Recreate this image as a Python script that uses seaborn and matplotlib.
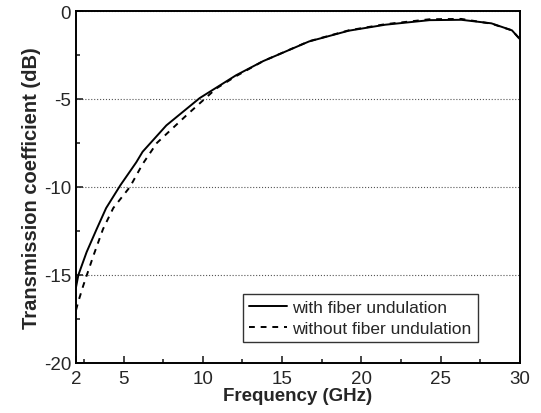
#!/usr/bin/env python3
"""
Transmission coefficient vs frequency, with and without fiber undulation.
"""

import pandas as pd
import matplotlib.pyplot as plt
import seaborn as sns
from matplotlib.ticker import MultipleLocator

# Curve
freq_with = [2.0, 2.15, 2.67, 3.3, 3.9, 4.8, 5.8, 6.2, 7.7, 9.8, 12.1, 13.8,
             16.7, 19.2, 21.5, 24.3, 26.3, 28.2, 29.5, 29.8, 30.0]
s21_with = [-15.7, -15.0, -13.7, -12.4, -11.2, -9.9, -8.6, -8.0, -6.5, -4.95,
            -3.65, -2.85, -1.73, -1.12, -0.78, -0.52, -0.50, -0.70, -1.10,
            -1.40, -1.60]

freq_without = [2.0, 2.15, 2.46, 3.1, 3.7, 4.35, 5.4, 6.2, 7.1, 9.0, 10.85,
                12.1, 13.8, 16.7, 19.2, 21.5, 24.3, 26.3, 28.2, 29.5, 29.8, 30.0]
s21_without = [-17.0, -16.5, -15.6, -13.9, -12.4, -11.2, -10.0, -8.7, -7.5,
               -5.9, -4.4, -3.7, -2.85, -1.72, -1.10, -0.75, -0.47, -0.45,
               -0.72, -1.10, -1.40, -1.60]

label_with = 'with fiber undulation'
label_without = 'without fiber undulation'

x_ticks = [2, 5, 10, 15, 20, 25, 30]
y_ticks = [0, -5, -10, -15, -20]


def build_frame():
    a = pd.DataFrame({'Frequency': freq_with, 'S21': s21_with, 'case': label_with})
    b = pd.DataFrame({'Frequency': freq_without, 'S21': s21_without, 'case': label_without})
    return pd.concat([a, b], ignore_index=True)


def main():
    sns.set_style('ticks')
    plt.rcParams['font.family'] = ['Liberation Sans', 'DejaVu Sans']
    plt.rcParams['axes.unicode_minus'] = False

    df = build_frame()

    fig = plt.figure(figsize=(5.41, 4.14), dpi=100)
    ax = fig.add_axes([0.1405, 0.121, 0.8205, 0.850])

    sns.lineplot(
        data=df, x='Frequency', y='S21', hue='case', style='case',
        palette={label_with: 'black', label_without: 'black'},
        dashes={label_with: '', label_without: (3, 3)},
        sort=False, estimator=None, linewidth=1.4, ax=ax,
    )

    ax.set_xlim(2, 30)
    ax.set_ylim(-20, 0)
    ax.set_xticks(x_ticks)
    ax.set_yticks(y_ticks)
    ax.xaxis.set_minor_locator(MultipleLocator(2.5))
    ax.yaxis.set_minor_locator(MultipleLocator(2.5))
    ax.tick_params(which='both', direction='in', labelsize=13.5, width=1.2)
    ax.tick_params(which='major', length=5)
    ax.tick_params(which='minor', length=3)
    ax.tick_params(axis='x', pad=5)

    for side in ['top', 'right']:
        ax.spines[side].set_visible(True)
    for sp in ax.spines.values():
        sp.set_linewidth(1.4)
        sp.set_color('black')

    ax.yaxis.grid(True, linestyle=':', color='#555555', linewidth=0.8)
    ax.xaxis.grid(False)

    ax.set_xlabel('Frequency (GHz)', fontsize=13.5, fontweight='bold', labelpad=0)
    ax.set_ylabel('Transmission coefficient (dB)', fontsize=14.5, fontweight='bold', labelpad=2)

    leg = ax.legend(loc='lower right', bbox_to_anchor=(0.905, 0.06),
                    fontsize=12.5, frameon=True, fancybox=False, edgecolor='black',
                    handlelength=2.2, borderpad=0.35, labelspacing=0.3,
                    handletextpad=0.3, borderaxespad=0)
    leg.get_frame().set_linewidth(1.0)
    leg.set_title(None)

    fig.savefig('out.png', dpi=100, facecolor='white')
    plt.close(fig)


if __name__ == '__main__':
    main()
